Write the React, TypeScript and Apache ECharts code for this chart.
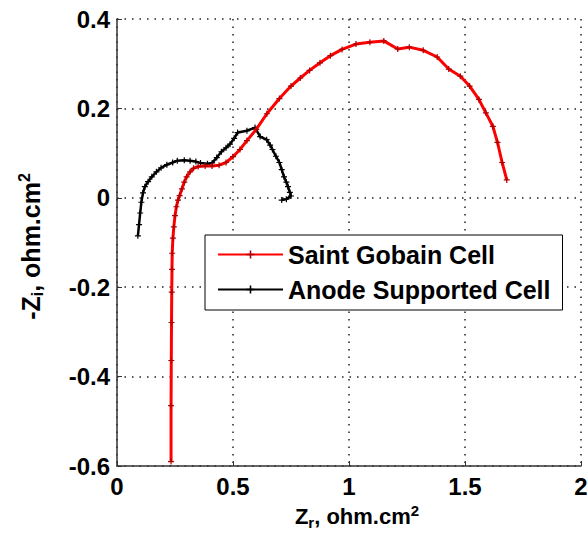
import React, { useEffect, useRef } from "react";
import * as echarts from "echarts";

const seriesNames = ["Saint Gobain Cell", "Anode Supported Cell"];

const saintGobainZr = [
  0.233, 0.233, 0.234, 0.235, 0.236, 0.237, 0.238, 0.241, 0.245, 0.25, 0.256, 0.263, 0.27,
  0.28, 0.29, 0.3, 0.315, 0.33, 0.35, 0.38, 0.41, 0.44, 0.47, 0.5, 0.53, 0.56, 0.6, 0.646,
  0.7, 0.75, 0.79, 0.83, 0.875, 0.92, 0.97, 1.03, 1.09, 1.15, 1.21, 1.26, 1.32, 1.38, 1.43,
  1.48, 1.52, 1.56, 1.59, 1.62, 1.64, 1.66, 1.68,
];
const saintGobainZi = [
  -0.59, -0.465, -0.364, -0.279, -0.211, -0.16, -0.124, -0.09, -0.065, -0.04, -0.02, -0.005,
  0.005, 0.02, 0.035, 0.047, 0.058, 0.066, 0.07, 0.071, 0.071, 0.073, 0.079, 0.092, 0.108,
  0.128, 0.153, 0.188, 0.222, 0.25, 0.268, 0.285, 0.302, 0.318, 0.332, 0.344, 0.348, 0.351,
  0.333, 0.337, 0.33, 0.315, 0.288, 0.272, 0.25, 0.22, 0.19, 0.16, 0.124, 0.079, 0.04,
];

const anodeZr = [
  0.09, 0.095, 0.1, 0.105, 0.112, 0.12, 0.134, 0.15, 0.17, 0.19, 0.215, 0.24, 0.26, 0.29,
  0.315, 0.34, 0.36, 0.39, 0.41, 0.43, 0.45, 0.47, 0.487, 0.505, 0.52, 0.56, 0.595, 0.617,
  0.645, 0.66, 0.67, 0.685, 0.7, 0.71, 0.72, 0.73, 0.737, 0.745, 0.75, 0.73, 0.71,
];
const anodeZi = [
  -0.085, -0.06, -0.034, -0.01, 0.011, 0.025, 0.036, 0.047, 0.058, 0.067, 0.074, 0.079,
  0.083, 0.084, 0.083, 0.081, 0.078, 0.076, 0.078, 0.09, 0.103, 0.112, 0.12, 0.133, 0.146,
  0.15, 0.157, 0.137, 0.13, 0.118, 0.108, 0.093, 0.079, 0.063, 0.047, 0.035, 0.025, 0.012,
  0.004, -0.003, -0.005,
];

const xTicks = [0, 0.5, 1, 1.5, 2];
const yTicks = [-0.6, -0.4, -0.2, 0, 0.2, 0.4];

const FONT = "Liberation Sans, Arial, sans-serif";
const plusSymbol = "path://M4,0H6V4H10V6H6V10H4V6H0V4H4Z";

const makeRich = (size: number, small: number, shift: number) => ({
  base: { fontSize: size, fontWeight: "bold", fontFamily: FONT, color: "#000" },
  sub: { fontSize: small, fontWeight: "bold", fontFamily: FONT, color: "#000", verticalAlign: "bottom", padding: [shift, 0, 0, 0] },
  sup: { fontSize: small, fontWeight: "bold", fontFamily: FONT, color: "#000", verticalAlign: "top", padding: [0, 0, shift, 0] },
});

export default function App() {
  const ref = useRef<HTMLDivElement>(null);
  useEffect(() => {
    if (!ref.current) return;
    const chart = echarts.init(ref.current, undefined, { renderer: "svg" });
    const fmt = (v: number) => {
      const r = Math.round(v * 10) / 10;
      return r === 0 ? "0" : String(r);
    };
    const gridLine = { show: true, lineStyle: { color: "#222", type: [1.5, 6], width: 1.5 } };
    chart.setOption({
      animation: false,
      backgroundColor: "#fff",
      grid: { left: 117, right: 6, top: 19, bottom: 84, outerBoundsMode: "none" },
      legend: {
        orient: "vertical",
        left: 205,
        top: 235,
        data: seriesNames,
        itemWidth: 65,
        itemHeight: 10,
        itemGap: 10,
        padding: [7, 12, 8, 12],
        borderColor: "#000",
        borderWidth: 1,
        backgroundColor: "#fff",
        textStyle: { fontSize: 25, fontWeight: "bold", fontFamily: FONT, color: "#000" },
      },
      xAxis: {
        type: "value",
        min: xTicks[0],
        max: xTicks[xTicks.length - 1],
        interval: 0.5,
        name: "{base|Z}{sub|r}{base|, ohm.cm}{sup|2}",
        nameLocation: "middle",
        nameGap: 33,
        nameTextStyle: { rich: makeRich(22, 15, 12), padding: [0, 0, 0, 16] },
        axisLine: { show: true, onZero: false, lineStyle: { color: "#333", width: 1.5 } },
        axisTick: { show: true, inside: true, length: 5, lineStyle: { color: "#333" } },
        axisLabel: {
          formatter: fmt,
          fontSize: 24,
          fontWeight: "bold",
          fontFamily: FONT,
          color: "#000",
          margin: 8,
          showMinLabel: true,
          showMaxLabel: true,
        },
        splitLine: gridLine,
      },
      yAxis: {
        type: "value",
        min: yTicks[0],
        max: yTicks[yTicks.length - 1],
        interval: 0.2,
        name: "{base|-Z}{sub|i}{base|, ohm.cm}{sup|2}",
        nameLocation: "middle",
        nameGap: 72,
        nameRotate: 90,
        nameTextStyle: { rich: makeRich(25, 16, 13), padding: [0, 8, 0, 0] },
        axisLine: { show: true, onZero: false, lineStyle: { color: "#333", width: 1.5 } },
        axisTick: { show: true, inside: true, length: 5, lineStyle: { color: "#333" } },
        axisLabel: {
          formatter: fmt,
          fontSize: 24,
          fontWeight: "bold",
          fontFamily: FONT,
          color: "#000",
          margin: 7,
          showMinLabel: true,
          showMaxLabel: true,
        },
        splitLine: gridLine,
      },
      series: [
        {
          name: seriesNames[0],
          type: "line",
          data: saintGobainZr.map((x, i) => [x, saintGobainZi[i]]),
          symbol: plusSymbol,
          symbolSize: 6,
          showSymbol: true,
          lineStyle: { color: "#ff0000", width: 3 },
          itemStyle: { color: "#b00000" },
          z: 3,
        },
        {
          name: seriesNames[1],
          type: "line",
          data: anodeZr.map((x, i) => [x, anodeZi[i]]),
          symbol: plusSymbol,
          symbolSize: 6,
          showSymbol: true,
          lineStyle: { color: "#000", width: 2.5 },
          itemStyle: { color: "#000" },
          z: 2,
        },
      ],
    });
    return () => chart.dispose();
  }, []);
  return (
    <div
      ref={ref}
      style={{ position: "fixed", left: 0, top: 0, width: 587, height: 550, background: "#fff" }}
    />
  );
}
